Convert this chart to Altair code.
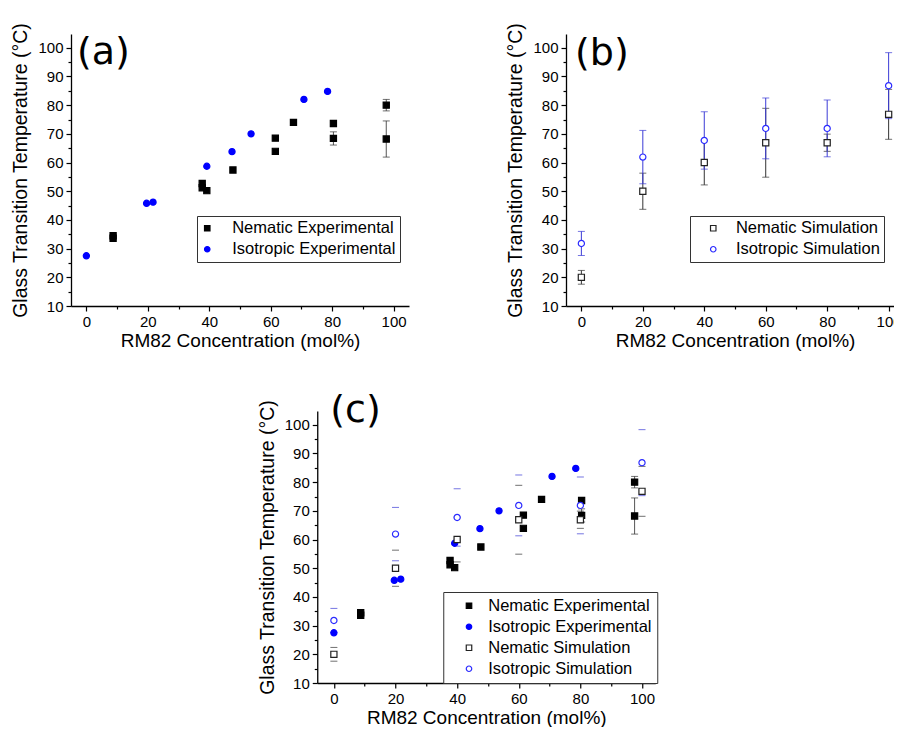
import altair as alt
import pandas as pd

# ---------------- data ----------------
nem_exp_x = [8.7, 8.7, 37.7, 37.7, 39.2, 47.7, 61.5, 61.5, 67.4, 80.4, 80.4, 97.6, 97.6]
nem_exp_y = [34.5, 33.6, 52.7, 51.2, 50.2, 57.4, 68.5, 63.9, 74.0, 73.6, 68.4, 80.0, 68.2]
nem_exp_err = [0, 0, 0, 0, 0, 0, 0, 0, 0, 0, 2.3, 2.0, 6.3]

iso_exp_x = [0, 19.6, 21.7, 39.2, 47.4, 53.6, 70.8, 78.5]
iso_exp_y = [27.5, 45.8, 46.2, 58.7, 63.8, 70.0, 82.0, 84.8]

sim_x = [0, 20, 40, 60, 80, 100]
nem_sim_y = [20.0, 50.0, 60.0, 66.9, 66.9, 76.8]
nem_sim_err = [2.4, 6.3, 7.8, 12.0, 3.0, 8.7]
iso_sim_y = [31.8, 61.9, 67.7, 71.9, 71.9, 86.8]
iso_sim_err = [4.2, 9.3, 10.0, 10.6, 9.9, 11.5]

SERIES = ["Nematic Experimental", "Isotropic Experimental",
          "Nematic Simulation", "Isotropic Simulation"]
FILL = {"Nematic Experimental": "#000000", "Isotropic Experimental": "#0000ff",
        "Nematic Simulation": "#ffffff", "Isotropic Simulation": "#ffffff"}
STROKE = {"Nematic Experimental": "#000000", "Isotropic Experimental": "#0000ff",
          "Nematic Simulation": "#222222", "Isotropic Simulation": "#2a2aff"}
SHAPE = {"Nematic Experimental": "square", "Isotropic Experimental": "circle",
         "Nematic Simulation": "square", "Isotropic Simulation": "circle"}

X_TITLE = "RM82 Concentration (mol%)"
Y_TITLE = "Glass Transition Temperature (°C)"

FONT = "Liberation Sans"


def points_df(names):
    rows = []
    src = {
        "Nematic Experimental": (nem_exp_x, nem_exp_y),
        "Isotropic Experimental": (iso_exp_x, iso_exp_y),
        "Nematic Simulation": (sim_x, nem_sim_y),
        "Isotropic Simulation": (sim_x, iso_sim_y),
    }
    for n in names:
        xs, ys = src[n]
        for xv, yv in zip(xs, ys):
            rows.append({"x": xv, "y": yv, "series": n})
    return pd.DataFrame(rows)


def err_df(xs, ys, es):
    rows = []
    for xv, yv, ev in zip(xs, ys, es):
        if ev > 0:
            rows.append({"x": xv, "lo": yv - ev, "hi": yv + ev})
    return pd.DataFrame(rows)


def caps_df(xs, ys, es):
    rows = []
    for xv, yv, ev in zip(xs, ys, es):
        if ev > 0:
            rows.append({"x": xv, "y": yv - ev})
            rows.append({"x": xv, "y": yv + ev})
    return pd.DataFrame(rows)


def X(field, domain):
    return alt.X(
        f"{field}:Q",
        scale=alt.Scale(domain=domain, nice=False, zero=False),
        axis=alt.Axis(
            values=list(range(0, 101, 10)),
            labelExpr="datum.value % 20 === 0 ? datum.label : ''",
            tickSize={"condition": {"test": "datum.value % 20 === 0", "value": 5}, "value": 3},
            title=X_TITLE,
            grid=False,
        ),
    )


def Y(field):
    return alt.Y(
        f"{field}:Q",
        scale=alt.Scale(domain=[10, 104.8], nice=False, zero=False),
        axis=alt.Axis(
            values=list(range(10, 101, 5)),
            labelExpr="datum.value % 10 === 0 ? datum.label : ''",
            tickSize={"condition": {"test": "datum.value % 10 === 0", "value": 5}, "value": 3},
            title=Y_TITLE,
            grid=False,
        ),
    )


def panel(names, label, label_xy, legend_xy, sym_offset, lab_offset, leg_pad,
          sim_lines, width, xdomain):
    layers = []
    # error bars
    if "Nematic Experimental" in names:
        e = err_df(nem_exp_x, nem_exp_y, nem_exp_err)
        c = caps_df(nem_exp_x, nem_exp_y, nem_exp_err)
        layers.append(alt.Chart(e).mark_rule(color="#555555", strokeWidth=1)
                      .encode(x=X("x", xdomain), y=Y("lo"), y2="hi"))
        layers.append(alt.Chart(c).mark_tick(orient="horizontal", size=7, thickness=1,
                                             color="#333333")
                      .encode(x=X("x", xdomain), y=Y("y")))
    if "Nematic Simulation" in names:
        e = err_df(sim_x, nem_sim_y, nem_sim_err)
        c = caps_df(sim_x, nem_sim_y, nem_sim_err)
        if sim_lines:
            layers.append(alt.Chart(e).mark_rule(color="#333333", strokeWidth=1)
                          .encode(x=X("x", xdomain), y=Y("lo"), y2="hi"))
        layers.append(alt.Chart(c).mark_tick(orient="horizontal", size=7, thickness=1,
                                             color="#333333")
                      .encode(x=X("x", xdomain), y=Y("y")))
    if "Isotropic Simulation" in names:
        e = err_df(sim_x, iso_sim_y, iso_sim_err)
        c = caps_df(sim_x, iso_sim_y, iso_sim_err)
        if sim_lines:
            layers.append(alt.Chart(e).mark_rule(color="#3b3bd6", strokeWidth=1)
                          .encode(x=X("x", xdomain), y=Y("lo"), y2="hi"))
        layers.append(alt.Chart(c).mark_tick(orient="horizontal", size=7, thickness=1,
                                             color="#3b3bd6")
                      .encode(x=X("x", xdomain), y=Y("y")))

    leg = alt.Legend(
        title=None, orient="none", legendX=legend_xy[0], legendY=legend_xy[1],
        strokeColor="#333333", fillColor="white", padding=leg_pad,
        labelFont=FONT, labelFontSize=16.5, labelColor="black", labelLimit=0,
        symbolSize=30, symbolStrokeWidth=1.2, rowPadding=4,
        symbolOffset=sym_offset, labelOffset=lab_offset,
    )
    pts = alt.Chart(points_df(names)).mark_point(size=38, strokeWidth=1.2, opacity=1).encode(
        x=X("x", xdomain),
        y=Y("y"),
        shape=alt.Shape("series:N", scale=alt.Scale(domain=names, range=[SHAPE[n] for n in names]), legend=leg),
        fill=alt.Fill("series:N", scale=alt.Scale(domain=names, range=[FILL[n] for n in names]), legend=leg),
        stroke=alt.Stroke("series:N", scale=alt.Scale(domain=names, range=[STROKE[n] for n in names]), legend=leg),
    )
    layers.append(pts)

    txt = alt.Chart(pd.DataFrame({"t": [label]})).mark_text(
        font="DejaVu Sans", fontSize=38, align="left", baseline="middle", color="black"
    ).encode(text="t:N", x=alt.value(label_xy[0]), y=alt.value(label_xy[1]))
    layers.append(txt)

    return alt.layer(*layers).properties(width=width, height=272)


pa = panel(SERIES[:2], "(a)", (6, 19), (126, 182), -2, 16.7, 4, True, 338, [-5, 105])
pb = panel(SERIES[2:], "(b)", (9, 20), (124, 182), 11, 14.4, 4, True, 338, [-5, 105])
pc = panel(SERIES, "(c)", (13, 0), (126, 181), 12, 11, 5.5, False, 338, [-5.4, 104.3])

top = alt.hconcat(pa, pb, spacing=96).resolve_scale(
    fill="independent", stroke="independent", shape="independent"
).resolve_legend(fill="independent", stroke="independent", shape="independent")

chart = alt.vconcat(top, pc, spacing=42, center=True).resolve_scale(
    fill="independent", stroke="independent", shape="independent"
).resolve_legend(fill="independent", stroke="independent", shape="independent")

chart = chart.properties(
    padding={"left": 2, "top": 14, "right": -10, "bottom": 0},
    background="white",
).configure_view(stroke=None).configure_axis(
    domainColor="black", domainWidth=1.3, tickColor="black", tickWidth=1.2,
    labelFont=FONT, labelFontSize=15, labelColor="black",
    titleFont=FONT, titleColor="black", titleFontWeight="normal",
).configure_axisX(titleFontSize=19, titlePadding=2, labelPadding=3).configure_axisY(
    titleFontSize=19.5, titlePadding=7, labelPadding=3
)

chart.save("out.html", embed_options={"renderer": "svg", "actions": False})
